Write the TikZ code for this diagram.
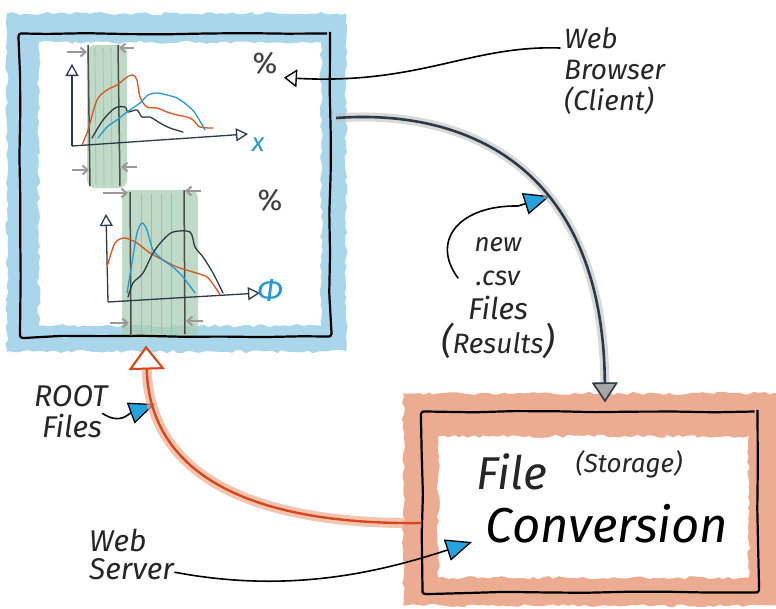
\documentclass[tikz,border=0pt]{standalone}
\usepackage{fontspec}
\setmainfont{Fira Sans}
\usepackage{tikz}
\usetikzlibrary{arrows.meta,positioning,calc,backgrounds,decorations.pathmorphing}
\definecolor{glowblue}{RGB}{170,214,235}
\definecolor{gloworange}{RGB}{236,172,146}
\definecolor{bandgreen}{RGB}{170,206,180}
\definecolor{slate}{RGB}{44,58,72}
\definecolor{rust}{RGB}{214,72,28}
\definecolor{curveorange}{RGB}{214,86,30}
\definecolor{curveblue}{RGB}{38,152,212}
\definecolor{tipblue}{RGB}{36,164,222}

\tikzset{
  hand/.style={font=\itshape, align=center, text=black!85, inner sep=1pt},
  frame/.style={draw=black, line width=2.2pt, rounded corners=3pt, decorate,
    decoration={random steps,segment length=40pt,amplitude=0.8pt}},
  glow/.style={decorate, decoration={random steps,segment length=5pt,amplitude=1.6pt}},
  ink/.style={draw=black, line width=1.6pt, line cap=round},
  bluetip/.style={-{Triangle[length=26pt,width=22pt,fill=tipblue,line width=1.3pt]}},
  axis/.style={draw=slate, line width=1.3pt, -{Triangle[open,length=12pt,width=13pt,line width=1.3pt]}},
  curve/.style={line width=1.3pt, line join=round, line cap=round},
  guide/.style={draw=black!40, line width=2pt, -{Straight Barb[length=5pt,width=9pt]}},
  edgeline/.style={draw=black!70, line width=1.5pt},
  faintline/.style={draw=black!30, line width=.6pt},
  darkarrow/.style={draw=slate, line width=2.6pt,
    preaction={draw=black!25, line width=9pt, opacity=.6},
    -{Triangle[length=20pt,width=26pt,fill=black!35,line width=1.6pt]}},
  redarrow/.style={draw=rust, line width=2.4pt,
    preaction={draw=gloworange, line width=10pt, opacity=.7},
    -{Triangle[open,length=24pt,width=36pt,line width=2pt]}},
}

\begin{document}
\begin{tikzpicture}[x=1pt,y=-1pt]
\pgfmathsetseed{7}
\useasboundingbox (0,0) rectangle (776,608);

% browser and storage boxes
\node[frame, minimum width=310pt, minimum height=303pt] (browser) at (175,185) {};
\node[frame, minimum width=335pt, minimum height=181pt] (conv) at (590,502) {};

\begin{scope}[on background layer]
  \fill[glowblue, glow] ($(browser.north west)+(-12,-19)$) rectangle ($(browser.south east)+(15,14)$);
  \fill[white, glow] ($(browser.north west)+(20,10)$) rectangle ($(browser.south east)+(-10,-12)$);
  \fill[bandgreen, opacity=.75, rounded corners=8pt] (87,45) rectangle (127,188);
  \fill[bandgreen, opacity=.75, rounded corners=8pt] (122,190) rectangle (198,338);
  \fill[gloworange, glow] ($(conv.north west)+(-18,-17)$) rectangle ($(conv.south east)+(20,12)$);
  \fill[white, glow] ($(conv.north west)+(17,26)$) rectangle ($(conv.south east)+(-10,-16)$);
\end{scope}

% selection bands
\foreach \bx in {95,103,111}
  \draw[faintline] (\bx,48) -- (\bx+1,185);
\foreach \bx in {141,151,161,171}
  \draw[faintline] (\bx,194) -- (\bx,334);
\draw[edgeline] (88,45) -- (90,186);
\draw[edgeline] (118,45) -- (120,186);
\draw[edgeline] (130,192) -- (131,336);
\draw[edgeline] (184,190) -- (185,334);
\foreach \yy/\xa/\xb in {52/67/87, 48/134/119, 170/72/89, 167/137/121,
                         193/103/128, 191/201/185, 323/110/129, 321/203/186}
  \draw[guide] (\xa,\yy) -- (\xb,\yy);

% plots
\draw[axis] (72,146) -- (72,64);
\draw[axis] (72,146) -- (248,134);
\draw[axis] (108,302) -- (106,214);
\draw[axis] (108,302) -- (260,293);
\node[font=\fontsize{26}{26}\selectfont\itshape, text=curveblue] (xlabel) at (258,145) {x};
\node[font=\fontsize{32}{32}\selectfont\itshape, text=curveblue] (philabel) at (270,290) {Φ};

\draw[curve, curveorange] plot[smooth, tension=.5] coordinates {(82,145) (88,130) (97,100) (107,90) (117,85)
  (127,77) (133,75) (137,80) (140,97) (147,107) (157,108) (167,112) (177,115) (187,117) (193,120) (200,127) (213,128)};
\draw[curve, slate] plot[smooth, tension=.5] coordinates {(92,138) (103,120) (115,108) (125,107) (128,112)
  (137,110) (142,117) (150,117) (160,123) (170,128) (183,132)};
\draw[curve, curveblue] plot[smooth, tension=.5] coordinates {(98,138) (107,127) (117,120) (127,112) (140,103)
  (148,95) (157,93) (167,95) (177,98) (187,105) (195,113) (205,130)};
\draw[curve, curveorange] plot[smooth, tension=.5] coordinates {(107,267) (115,243) (125,238) (137,243) (150,253)
  (163,260) (177,267) (193,272) (207,277) (215,287) (220,295)};
\draw[curve, curveblue] plot[smooth, tension=.5] coordinates {(127,293) (132,263) (137,233) (142,223) (147,230)
  (153,250) (163,260) (173,267) (183,277) (195,293)};
\draw[curve, slate] plot[smooth, tension=.5] coordinates {(128,297) (133,283) (143,273) (153,253) (163,240)
  (173,232) (190,232) (195,247) (203,257) (213,273) (223,293)};

\node[font=\fontsize{30}{30}\selectfont, text=black!75] (pctTop) at (265,63) {\%};
\node[font=\fontsize{30}{30}\selectfont, text=black!75] (pctBot) at (270,200) {\%};

% labels
\node[hand, font=\fontsize{28}{31}\selectfont\itshape, align=left, anchor=north west] (client) at (563,26) {Web\\Browser\\(Client)};
\draw[ink, -{Triangle[open,length=13pt,width=18pt,line width=1.4pt]}]
  ($(client.north west)+(-3,22)$) .. controls (470,45) and (420,85) .. ($(pctTop.south east)+(3,0)$);

\node[hand, font=\fontsize{26}{34}\selectfont\itshape] (csv) at (498,298)
  {new\\{\fontsize{27}{34}\selectfont .csv}\\{\fontsize{30}{34}\selectfont Files}\\%
   {\fontsize{36}{34}\selectfont(}{\fontsize{28}{34}\selectfont Results}{\fontsize{36}{34}\selectfont)}};
\coordinate (csvtip) at (550,196);
\draw[ink, bluetip] ($(csv.west)+(18,-20)$) .. controls (430,240) and (460,205) .. (518,206) -- (csvtip);

\node[hand, font=\fontsize{46}{46}\selectfont\itshape] (fileword) at (512,472) {File};
\node[hand, font=\fontsize{26}{26}\selectfont\itshape] (storage) at (629,464) {(Storage)};
\node[hand, font=\fontsize{49}{49}\selectfont\itshape, text=black] (conversion) at (607,524) {Conversion};

\node[hand, font=\fontsize{30}{31}\selectfont\itshape, align=left, anchor=north west] (root) at (33,384) {ROOT\\\hspace{8pt}Files};
\coordinate (roottip) at (155,404);
\draw[ink, bluetip] ($(root.east)+(-6,2)$) .. controls (120,425) and (128,414) .. (roottip);

\node[hand, font=\fontsize{30}{28}\selectfont\itshape, align=left, anchor=north west] (server) at (88,528) {Web\\Server};
\coordinate (servertip) at (472,542);
\draw[ink, bluetip] ($(server.south east)+(0,-9)$) .. controls (290,594) and (380,572) .. (servertip);

% data flow
\draw[darkarrow] ($(browser.east)+(5,-67)$) .. controls (470,108) and (603,170) .. ($(conv.north)+(15,-8)$);
\draw[redarrow] ($(conv.west)+(0,21)$) .. controls (260,525) and (150,480) .. ($(browser.south)+(-29,8)$);
\end{tikzpicture}
\end{document}
